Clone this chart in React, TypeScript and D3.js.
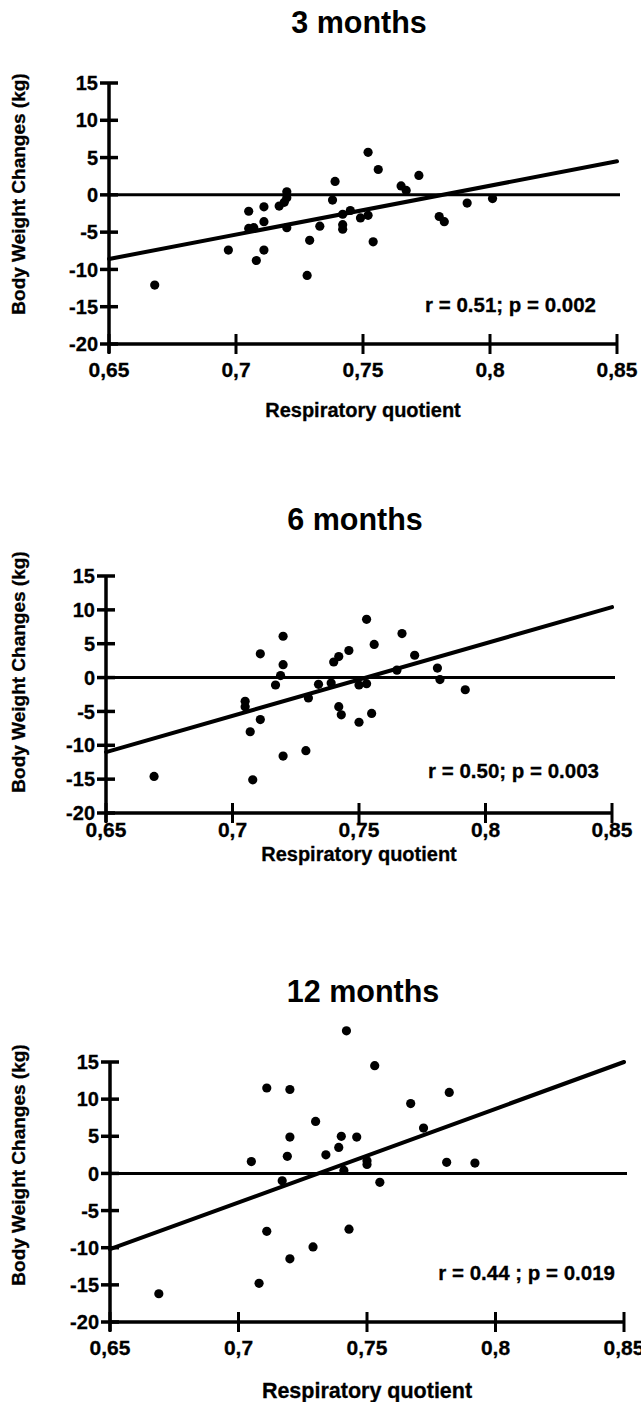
import React from 'react';
import * as d3 from 'd3';

// Respiratory quotient (x) / body weight change in kg (y)
const rq3 = [0.668, 0.697, 0.705, 0.705, 0.707, 0.708, 0.711, 0.711, 0.711, 0.717, 0.719, 0.720, 0.720, 0.720, 0.728, 0.729, 0.733, 0.738, 0.739, 0.742, 0.742, 0.742, 0.745, 0.749, 0.752, 0.752, 0.754, 0.756, 0.765, 0.767, 0.772, 0.780, 0.782, 0.791, 0.801];
const bw3 = [-12.1, -7.4, -2.2, -4.5, -4.4, -8.8, -1.6, -3.6, -7.4, -1.5, -1.0, 0.4, -0.4, -4.4, -10.8, -6.1, -4.2, -0.7, 1.8, -4.0, -4.6, -2.6, -2.1, -3.1, -2.75, 5.7, -6.3, 3.4, 1.2, 0.6, 2.6, -2.9, -3.6, -1.1, -0.5];

const rq6 = [0.669, 0.705, 0.705, 0.707, 0.708, 0.711, 0.711, 0.717, 0.719, 0.720, 0.720, 0.720, 0.729, 0.730, 0.734, 0.739, 0.740, 0.742, 0.742, 0.743, 0.746, 0.750, 0.750, 0.753, 0.753, 0.755, 0.756, 0.765, 0.767, 0.772, 0.781, 0.782, 0.792];
const bw6 = [-14.6, -3.5, -4.3, -8.0, -15.1, 3.5, -6.2, -1.1, 0.3, 6.1, 1.9, -11.6, -10.8, -3.0, -1.0, -0.8, 2.3, 3.1, -4.3, -5.5, 4.0, -1.1, -6.6, -0.9, 8.6, -5.3, 4.9, 1.1, 6.5, 3.3, 1.4, -0.3, -1.8];

const rq12 = [0.669, 0.705, 0.708, 0.711, 0.711, 0.720, 0.720, 0.719, 0.717, 0.720, 0.730, 0.729, 0.734, 0.739, 0.740, 0.742, 0.741, 0.743, 0.746, 0.750, 0.750, 0.753, 0.755, 0.767, 0.772, 0.782, 0.781, 0.792];
const bw12 = [-16.2, 1.6, -14.8, 11.5, -7.8, 11.3, 4.9, 2.3, -1.0, -11.5, 7.0, -9.9, 2.5, 3.5, 5.0, 19.2, 0.4, -7.5, 4.9, 1.7, 1.2, 14.5, -1.2, 9.4, 6.1, 10.9, 1.5, 1.4];

// regression lines, value at x = 0.65 and x = 0.85
const regX = [0.65, 0.85];
const reg3 = [-8.6, 4.5];
const reg6 = [-11.0, 10.4];
const reg12 = [-10.2, 15.0];

const xTicks = [0.65, 0.7, 0.75, 0.8, 0.85];
const xTickLabels = ['0,65', '0,7', '0,75', '0,8', '0,85'];
const yTicks = [15, 10, 5, 0, -5, -10, -15, -20];
const titles = ['3 months', '6 months', '12 months'];
const stats = ['r = 0.51; p = 0.002', 'r = 0.50; p = 0.003', 'r = 0.44 ; p = 0.019'];

const font = '"Liberation Sans", Arial, Helvetica, sans-serif';

const panels = [
  { xs: rq3, ys: bw3, reg: reg3, left: 109, right: 617, top: 83, bottom: 344, titleY: 33, tickY: 377, axisTitleY: 417, axisTitleSize: 20, yLabelY: 194, statX: 596, statY: 312 },
  { xs: rq6, ys: bw6, reg: reg6, left: 106, right: 612, top: 576, bottom: 813, titleY: 530, tickY: 837, axisTitleY: 861, axisTitleSize: 20, yLabelY: 672, statX: 599, statY: 778 },
  { xs: rq12, ys: bw12, reg: reg12, left: 110, right: 624, top: 1062, bottom: 1322, titleY: 1002, tickY: 1355, axisTitleY: 1398, axisTitleSize: 21.5, yLabelY: 1165, statX: 615, statY: 1280 },
];

const Panel = ({ p, i }) => {
  const x = d3.scaleLinear().domain([0.65, 0.85]).range([p.left, p.right]);
  const y = d3.scaleLinear().domain([-20, 15]).range([p.bottom, p.top]);
  const line = d3.line<number>().x(d => x(d)).y((d, k) => y(p.reg[k]));
  const mid = (p.left + p.right) / 2;

  return (
    <g>
      <text x={mid - 4} y={p.titleY} textAnchor="middle" fontSize={30.5} fontWeight="bold">{titles[i]}</text>
      {/* zero line */}
      <line x1={x(0.65)} x2={x(0.85) + 3} y1={y(0)} y2={y(0)} stroke="#000" strokeWidth={3} />
      {/* regression */}
      <path d={line(regX) || ''} fill="none" stroke="#000" strokeWidth={4} strokeLinecap="round" />
      {/* axes */}
      <line x1={p.left} x2={p.left} y1={p.top - 1} y2={p.bottom + 9} stroke="#000" strokeWidth={3.5} />
      <line x1={p.left - 1} x2={p.right + 1} y1={p.bottom} y2={p.bottom} stroke="#000" strokeWidth={3.5} />
      {yTicks.map(t => (
        <g key={t}>
          <line x1={p.left - 9} x2={p.left + 9} y1={y(t)} y2={y(t)} stroke="#000" strokeWidth={3.5} />
          <text x={p.left - 11} y={y(t)} dy="0.36em" textAnchor="end" fontSize={20} fontWeight="bold" stroke="#000" strokeWidth={0.3}>{t}</text>
        </g>
      ))}
      {xTicks.map((t, k) => (
        <g key={t}>
          <line x1={x(t)} x2={x(t)} y1={p.bottom - 10} y2={p.bottom + 10} stroke="#000" strokeWidth={3} />
          <text x={x(t)} y={p.tickY} textAnchor="middle" fontSize={21} fontWeight="bold" stroke="#000" strokeWidth={0.3}>{xTickLabels[k]}</text>
        </g>
      ))}
      {p.xs.map((v, k) => (
        <circle key={k} cx={x(v)} cy={y(p.ys[k])} r={4.6} fill="#000" />
      ))}
      <text x={p.statX} y={p.statY} textAnchor="end" fontSize={20.5} fontWeight="bold" stroke="#000" strokeWidth={0.3}>{stats[i]}</text>
      <text x={mid} y={p.axisTitleY} textAnchor="middle" fontSize={p.axisTitleSize} fontWeight="bold" stroke="#000" strokeWidth={0.3}>Respiratory quotient</text>
      <text transform={`translate(25,${p.yLabelY}) rotate(-90)`} textAnchor="middle" fontSize={19} fontWeight="bold" stroke="#000" strokeWidth={0.3}>Body Weight Changes (kg)</text>
    </g>
  );
};

export default function App() {
  return (
    <div style={{ position: 'absolute', left: 0, top: 0 }}>
      <svg width={641} height={1402} style={{ display: 'block', background: '#fff', fontFamily: font }}>
        <rect width={641} height={1402} fill="#fff" />
        {panels.map((p, i) => <Panel key={i} p={p} i={i} />)}
      </svg>
    </div>
  );
}
